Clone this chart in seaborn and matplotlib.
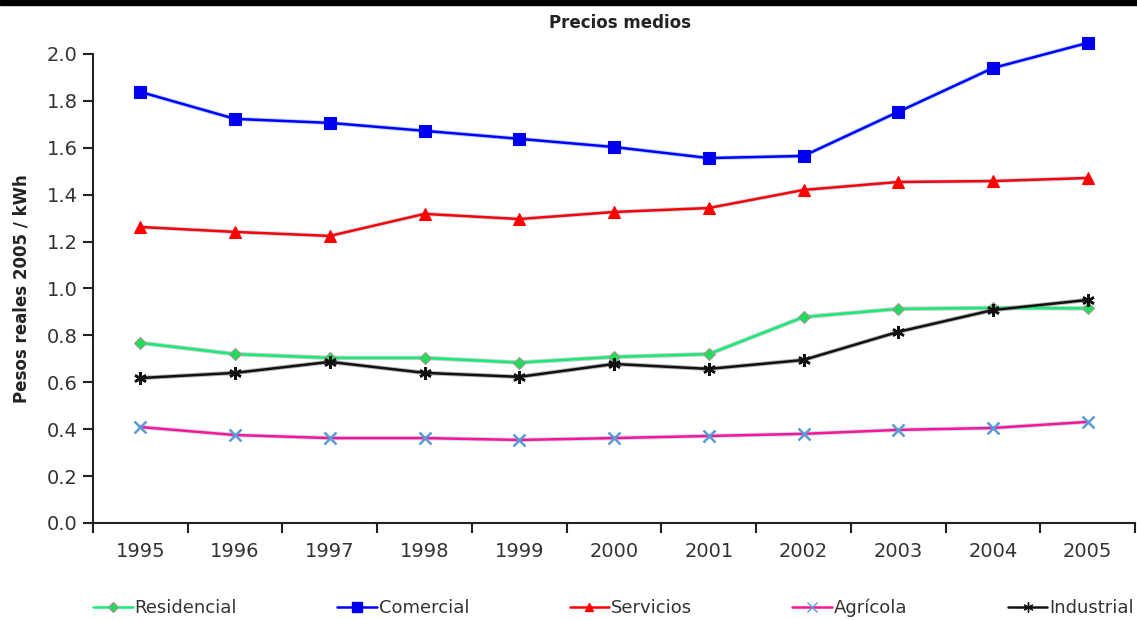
import matplotlib
matplotlib.use("Agg")
import matplotlib.pyplot as plt
from matplotlib.patches import Rectangle
from matplotlib.lines import Line2D
import seaborn as sns
import pandas as pd

years = [1995, 1996, 1997, 1998, 1999, 2000, 2001, 2002, 2003, 2004, 2005]
residencial = [0.768, 0.720, 0.704, 0.704, 0.684, 0.708, 0.720, 0.878, 0.913, 0.917, 0.915]
comercial = [1.838, 1.723, 1.706, 1.672, 1.638, 1.603, 1.556, 1.565, 1.753, 1.940, 2.047]
servicios = [1.262, 1.241, 1.224, 1.318, 1.296, 1.326, 1.343, 1.420, 1.454, 1.458, 1.471]
agricola = [0.409, 0.375, 0.362, 0.362, 0.354, 0.362, 0.371, 0.380, 0.397, 0.405, 0.431]
industrial = [0.618, 0.640, 0.687, 0.640, 0.623, 0.678, 0.657, 0.695, 0.815, 0.908, 0.951]

names = ["Residencial", "Comercial", "Servicios", "Agrícola", "Industrial"]
series = [residencial, comercial, servicios, agricola, industrial]

sns.set_style("white")
plt.rcParams['font.family'] = ['DejaVu Sans']

fig = plt.figure(figsize=(11.37, 6.2), dpi=100)
ax = fig.add_axes([0.0818, 0.1565, 0.9165, 0.7565])

styles = {
    "Residencial": dict(color="#11ee77", marker="D", ms=6, mfc="#22dd55", mec="#999999", shadow="#aaaaaa"),
    "Comercial": dict(color="#0000ff", marker="s", ms=9, mfc="#0000ee", mec="#0000ee", shadow="#8fb8e0"),
    "Servicios": dict(color="#ff0000", marker="^", ms=8, mfc="#ff0000", mec="#ff0000", shadow="#9cc3e6"),
    "Agrícola": dict(color="#ff1493", marker="x", ms=9, mfc="#5b9bd5", mec="#5b9bd5", shadow="#9cc3e6"),
    "Industrial": dict(color="#111111", marker=(6, 2, 0), ms=9, mfc="#111111", mec="#111111", shadow="#888888"),
}

df = pd.DataFrame({"year": years})
for n, s in zip(names, series):
    df[n] = s

for n in names:
    st = styles[n]
    sns.lineplot(x="year", y=n, data=df, ax=ax, color=st["shadow"], lw=3.2, alpha=0.6,
                 legend=False, clip_on=False, zorder=2)
    sns.lineplot(x="year", y=n, data=df, ax=ax, color=st["color"], lw=1.8,
                 marker=st["marker"], markersize=st["ms"], markerfacecolor=st["mfc"],
                 markeredgecolor=st["mec"], markeredgewidth=1.8 if n in ("Agrícola", "Industrial") else 0.8,
                 legend=False, clip_on=False, zorder=3)

ax.set_xlim(1994.5, 2005.5)
ax.set_ylim(0, 2.0)
ax.set_yticks([0.0, 0.2, 0.4, 0.6, 0.8, 1.0, 1.2, 1.4, 1.6, 1.8, 2.0])
ax.set_yticklabels([f"{v:.1f}" for v in ax.get_yticks()])
ax.set_xticks(years)
ax.set_xticklabels([str(y) for y in years])
ax.set_xticks([y - 0.5 for y in years] + [2005.5], minor=True)
ax.tick_params(axis="x", which="major", length=0, pad=14, labelsize=14, labelcolor="#333333")
ax.tick_params(axis="x", which="minor", length=7, width=1.5, color="#222222", direction="out")
ax.tick_params(axis="y", which="major", length=7, width=1.5, color="#222222", direction="out",
               labelsize=14, labelcolor="#333333", pad=4)
ax.tick_params(bottom=True, left=True, which="both")

for side in ["top", "right"]:
    ax.spines[side].set_visible(False)
for side in ["left", "bottom"]:
    ax.spines[side].set_color("#222222")
    ax.spines[side].set_linewidth(1.5)

ax.set_xlabel("")
ax.set_ylabel("Pesos reales 2005 / kWh", fontsize=12, fontweight="bold", color="#222222", labelpad=12)
fig.text(0.545, 0.963, "Precios medios", ha="center", va="center", fontsize=12,
         fontweight="bold", color="#222222")

handles = []
for n in names:
    st = styles[n]
    handles.append(Line2D([0], [0], color=st["color"], lw=1.8, marker=st["marker"],
                          markersize=st["ms"] * 0.8, markerfacecolor=st["mfc"],
                          markeredgecolor=st["mec"]))
fig.legend(handles, names, loc="center", bbox_to_anchor=(0.5396, 0.02), ncol=5, frameon=False,
           fontsize=13, handlelength=2.2, handletextpad=0.1, columnspacing=5.55,
           labelcolor="#333333")

fig.patches.append(Rectangle((0, 0.992), 1, 0.008, transform=fig.transFigure,
                             color="black", zorder=10))

fig.savefig("out.png", dpi=100)
